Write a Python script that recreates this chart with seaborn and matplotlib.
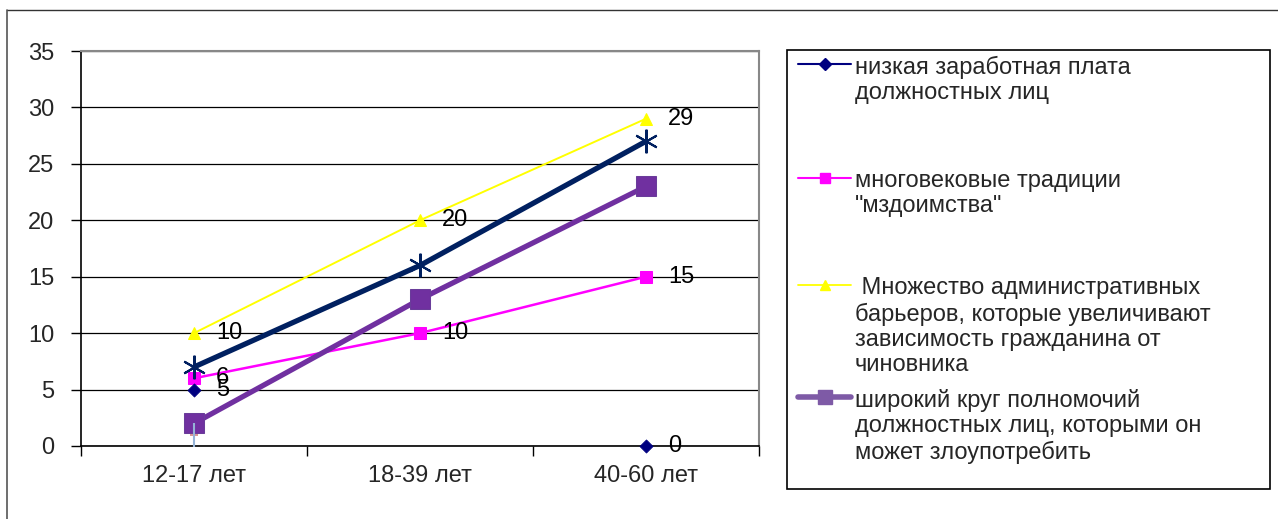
import numpy as np
import pandas as pd
import seaborn as sns
import matplotlib.pyplot as plt
from matplotlib.lines import Line2D
from matplotlib.patches import Rectangle

# данные графика
categories = ['12-17 лет', '18-39 лет', '40-60 лет']
low_salary = [5, np.nan, 0]
traditions = [6, 10, 15]
barriers = [10, 20, 29]
unnamed = [7, 16, 27]
powers = [2, 13, 23]
stray_square = [1.3, np.nan, np.nan]
stray_bar = [1.0, np.nan, np.nan]

labels = ['низкая заработная плата\nдолжностных лиц',
          'многовековые традиции\n"мздоимства"',
          ' Множество административных\nбарьеров, которые увеличивают\nзависимость гражданина от\nчиновника',
          'широкий круг полномочий\nдолжностных лиц, которыми он\nможет злоупотребить']

sns.set_theme(style='white')
plt.rcParams['font.family'] = ['Liberation Sans', 'DejaVu Sans']
FS = 17

W, H = 1278, 519
fig = plt.figure(figsize=(W / 100, H / 100), dpi=100)
ax = fig.add_axes([81 / W, 1 - 446 / H, (759 - 81) / W, (446 - 51) / H])

x = np.arange(len(categories))
df = pd.DataFrame({'x': x, 'low': low_salary, 'trad': traditions, 'barr': barriers,
                   'unn': unnamed, 'pow': powers, 'sq': stray_square, 'bar': stray_bar})

sns.lineplot(data=df, x='x', y='trad', ax=ax, color='#FF00FF', lw=1.8,
             marker='s', markersize=8, markeredgecolor='#FF00FF', zorder=3)
sns.lineplot(data=df, x='x', y='barr', ax=ax, color='#FFFF00', lw=1.4,
             marker='^', markersize=9, markeredgecolor='#FFFF00', zorder=3)
sns.lineplot(data=df, x='x', y='unn', ax=ax, color='#002060', lw=3.8,
             marker=(6, 2, 0), markersize=17, markeredgecolor='#002060',
             markeredgewidth=1.5, zorder=4)
sns.scatterplot(data=df, x='x', y='sq', ax=ax, color='#D99694', marker='s', s=40,
                edgecolor='none', zorder=4)
sns.lineplot(data=df, x='x', y='pow', ax=ax, color='#7030A0', lw=3.8,
             marker='s', markersize=14, markeredgecolor='#6A3D9A', zorder=5)
sns.scatterplot(data=df, x='x', y='bar', ax=ax, color='#95B3D7', marker='|', s=300,
                linewidth=1.5, zorder=6)
sns.scatterplot(data=df, x='x', y='low', ax=ax, color='#000080', marker='D', s=45,
                edgecolor='#000080', zorder=6)
for coll in ax.collections:
    coll.set_clip_on(False)

# подписи значений
for series in [low_salary, traditions, barriers]:
    for xi, v in zip(x, series):
        if not np.isnan(v):
            ax.annotate(f'{v:g}', (xi, v), xytext=(16, 0), textcoords='offset points',
                        ha='left', va='center', fontsize=FS, color='black', zorder=7)

ax.set_xlim(-0.5, 2.5)
ax.set_ylim(0, 35)
ax.set_yticks(range(0, 36, 5))
ax.set_xticks([-0.5, 0.5, 1.5, 2.5])
ax.set_xticklabels([])
ax.set_xticks(x, minor=True)
ax.set_xticklabels(categories, minor=True)
ax.tick_params(axis='x', which='major', length=7, width=1, color='black', direction='out', bottom=True)
ax.tick_params(axis='x', which='minor', length=0, pad=14, labelsize=FS, bottom=True)
ax.tick_params(axis='y', length=7, width=1, color='black', direction='out', left=True,
               pad=12, labelsize=FS)
ax.set_xlabel('')
ax.set_ylabel('')
ax.grid(axis='y', color='black', lw=0.9)
ax.set_axisbelow(True)
for side in ['left', 'bottom']:
    ax.spines[side].set_color('black')
    ax.spines[side].set_linewidth(1.2)
for side in ['top', 'right']:
    ax.spines[side].set_color('#888888')
    ax.spines[side].set_linewidth(1.5)

# внешняя рамка
fig.add_artist(Line2D([7 / W, 1], [1 - 10 / H, 1 - 10 / H], color='#333333', lw=1))
fig.add_artist(Line2D([7 / W, 7 / W], [0, 1 - 10 / H], color='#555555', lw=1.2))

# легенда
fig.add_artist(Rectangle((787 / W, 1 - 489 / H), (1270 - 787) / W, (489 - 50) / H,
                         fill=False, edgecolor='black', lw=1.2))
styles = [dict(color='#000080', lw=1.5, marker='D', ms=6),
          dict(color='#FF00FF', lw=1.5, marker='s', ms=7),
          dict(color='#FFFF00', lw=1.3, marker='^', ms=7),
          dict(color='#7E5AA6', lw=4, marker='s', ms=10)]
entry_y = [64, 178, 285, 397]
for st, lab, ey in zip(styles, labels, entry_y):
    yy = 1 - ey / H
    fig.add_artist(Line2D([798 / W, 851 / W], [yy, yy], color=st['color'], lw=st['lw']))
    fig.add_artist(Line2D([825 / W], [yy], color=st['color'], marker=st['marker'],
                          markersize=st['ms'], lw=0))
    fig.text(855 / W, yy + 8 / H, lab, ha='left', va='top', fontsize=FS,
             linespacing=1.19)

fig.savefig('out.png', dpi=100)
